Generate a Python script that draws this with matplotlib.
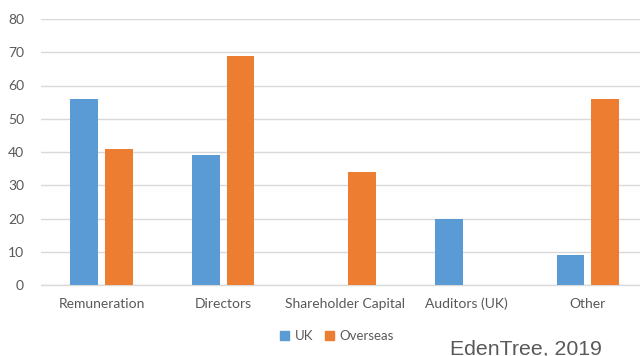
import matplotlib
matplotlib.use("Agg")
import matplotlib.pyplot as plt
import numpy as np
from matplotlib.patches import Patch

categories = ["Remuneration", "Directors", "Shareholder Capital", "Auditors (UK)", "Other"]
uk = [56, 39, 0, 20, 9]
overseas = [41, 69, 34, 0, 56]
yticks = [0, 10, 20, 30, 40, 50, 60, 70, 80]

blue = "#5B9BD5"
orange = "#ED7D31"
grey_txt = "#595959"

plt.rcParams['font.family'] = ['Lato', 'DejaVu Sans']

fig = plt.figure(figsize=(6.4, 3.56), dpi=100)
ax = fig.add_axes([40.7/640, (356-285)/356, 1 - 40.7/640, (285-19)/356])

x = np.arange(len(categories))
w = 0.226
off = 0.142
ax.bar(x - off, uk, width=w, color=blue, zorder=3)
ax.bar(x + off, overseas, width=w, color=orange, zorder=3)

ax.set_xlim(-0.5, (640-101.5)/121.6)
ax.set_ylim(0, 80)
ax.set_yticks(yticks)
ax.yaxis.grid(True, color="#D9D9D9", linewidth=1)
ax.set_axisbelow(True)
for s in ["top", "right", "left"]:
    ax.spines[s].set_visible(False)
ax.spines["bottom"].set_color("#D9D9D9")
ax.spines["bottom"].set_linewidth(1)
ax.tick_params(axis="both", length=0, colors=grey_txt, labelsize=10)
ax.tick_params(axis="y", pad=12)
ax.tick_params(axis="x", pad=9)
ax.set_xticks(x)
ax.set_xticklabels(categories)

handles = [Patch(color=blue, label="UK"), Patch(color=orange, label="Overseas")]
fig.legend(handles=handles, loc="center", bbox_to_anchor=(337/640, 1 - 336/356), ncol=2,
           frameon=False, fontsize=9.5, handlelength=0.7, handleheight=0.7,
           handletextpad=0.4, columnspacing=0.9, labelcolor=grey_txt)

fig.text(450/640, 1 - 349/356, "EdenTree, 2019", fontsize=15.3, color=grey_txt,
         family=['Liberation Sans', 'DejaVu Sans'], va="center", ha="left")

fig.savefig("out.png", dpi=100)
